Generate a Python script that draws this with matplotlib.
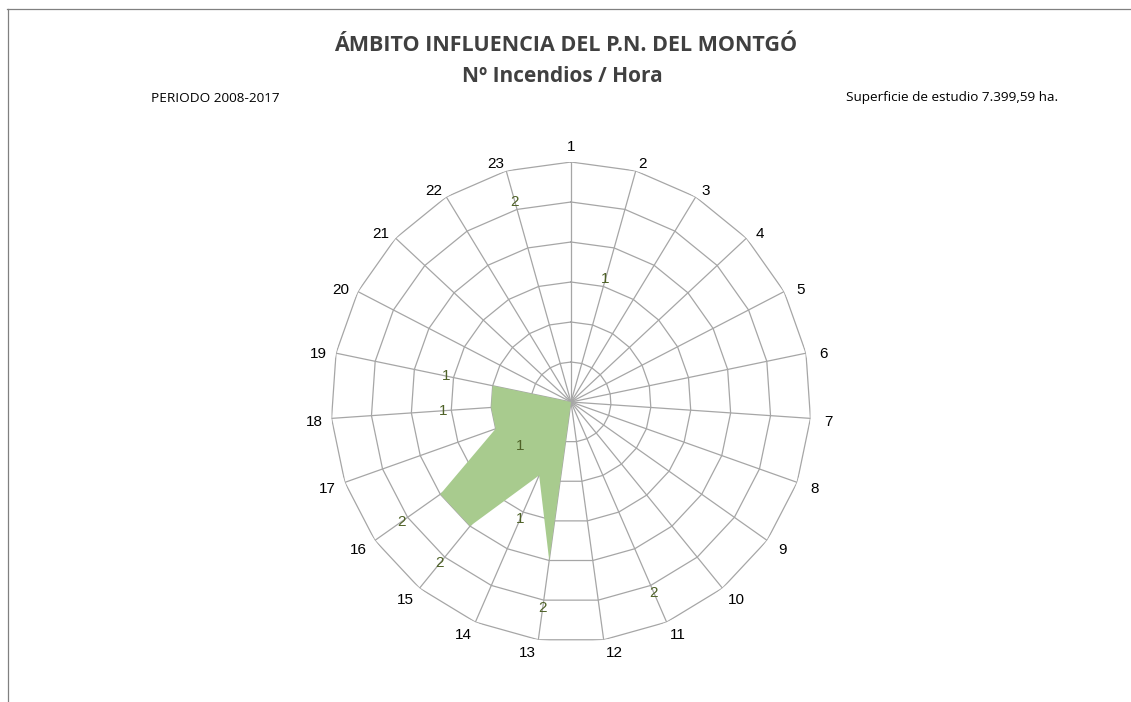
import numpy as np
import matplotlib
matplotlib.use("Agg")
import matplotlib.pyplot as plt

# ---- data ----
hours = [str(h) for h in range(1, 24)]
# filled series (Nº incendios por hora)
fires = [0, 0, 0, 0, 0, 0, 0, 0, 0, 0, 0, 0, 2, 1, 2, 2, 1, 1, 1, 0, 0, 0, 0]
# data labels shown on the chart (None = no label)
label_values = [None, 1, None, None, None, None, None, None, None, None, 2, None,
                2, 1, 2, 2, 1, 1, 1, None, None, None, 2]
r_max = 3.0
ring_levels = [0.5, 1.0, 1.5, 2.0, 2.5, 3.0]

title = "ÁMBITO INFLUENCIA DEL P.N. DEL MONTGÓ"
subtitle = "Nº Incendios / Hora"
period_text = "PERIODO 2008-2017"
area_text = "Superficie de estudio 7.399,59 ha."

# ---- figure ----
W, H = 1131, 702
fig = plt.figure(figsize=(W / 100, H / 100), dpi=100)
fig.patch.set_facecolor("white")

# border lines (top and left)
fig.add_artist(plt.Line2D([7 / W, 1], [1 - 9 / H, 1 - 9 / H], color="#808080", lw=0.9))
fig.add_artist(plt.Line2D([7.5 / W, 7.5 / W], [0, 1 - 9 / H], color="#808080", lw=0.9))

tfont = ["Open Sans", "DejaVu Sans"]
fig.text(566 / W, 1 - 45.5 / H, title, ha="center", va="center", fontsize=15.5,
         fontweight="bold", color="#404040", family=tfont)
fig.text(562 / W, 1 - 76 / H, subtitle, ha="center", va="center", fontsize=15,
         fontweight="bold", color="#404040", family=tfont)
fig.text(151 / W, 1 - 98 / H, period_text, ha="left", va="center", fontsize=9.7,
         color="black", family=tfont)
fig.text(1058 / W, 1 - 98 / H, area_text, ha="right", va="center", fontsize=9.7,
         color="black", family=tfont)

cx, cy, R = 571, 402, 240
ax = fig.add_axes([(cx - R) / W, (H - cy - R) / H, 2 * R / W, 2 * R / H], projection="polar")
ax.set_theta_offset(np.pi / 2)
ax.set_theta_direction(-1)
ax.set_ylim(0, r_max)
ax.grid(False)
ax.set_xticks([])
ax.set_yticks([])
ax.spines["polar"].set_visible(False)
ax.patch.set_alpha(0)

n = len(hours)
theta = np.arange(n) * 2 * np.pi / n
theta_c = np.append(theta, theta[0])

grid_col = "#a6a6a6"
for lv in ring_levels:
    ax.plot(theta_c, [lv] * (n + 1), color=grid_col, lw=0.9, zorder=1)
for t in theta:
    ax.plot([t, t], [0, r_max], color=grid_col, lw=0.9, zorder=1)

vals_c = np.append(fires, fires[0])
ax.fill(theta_c, vals_c, color="#a8cb8e", lw=0, zorder=2)

# category labels, placed Excel-like around the outer vertices
lab_font = ["Liberation Sans", "DejaVu Sans"]
px2pt = 72 / 100
for t, lab in zip(theta, hours):
    ux, uy = np.sin(t), -np.cos(t)          # screen direction (y down)
    side = np.clip((abs(ux) - 0.3) / 0.65, 0, 1)
    hw = 4.25 * len(lab) * (1 - side) + 8.5 * side
    gap = 2 + 7 * side
    dx = 0.0 if abs(ux) < 0.02 else np.sign(ux) * (hw + gap)
    if abs(ux) < 0.02 and uy < 0:
        dy = -18.0
    elif uy < 0:
        dy = 10 * uy
    else:
        dy = min(12 * uy, 10.5)
    ax.annotate(lab, xy=(t, r_max), xytext=(dx * px2pt, -(dy + 1.2) * px2pt),
                textcoords="offset points", ha="center", va="center_baseline",
                fontsize=11, color="black", family=lab_font)

# data labels
for i, (t, v) in enumerate(zip(theta, label_values)):
    if v is None:
        continue
    if hours[i] == "17":
        tt, rr = np.deg2rad(229.2), 0.84
    else:
        tt, rr = t, v + 0.6
    ax.text(tt, rr, str(v), ha="center", va="center", fontsize=11,
            color="#4f6228", family=lab_font, zorder=4)

fig.savefig("out.png", dpi=100, facecolor="white")
